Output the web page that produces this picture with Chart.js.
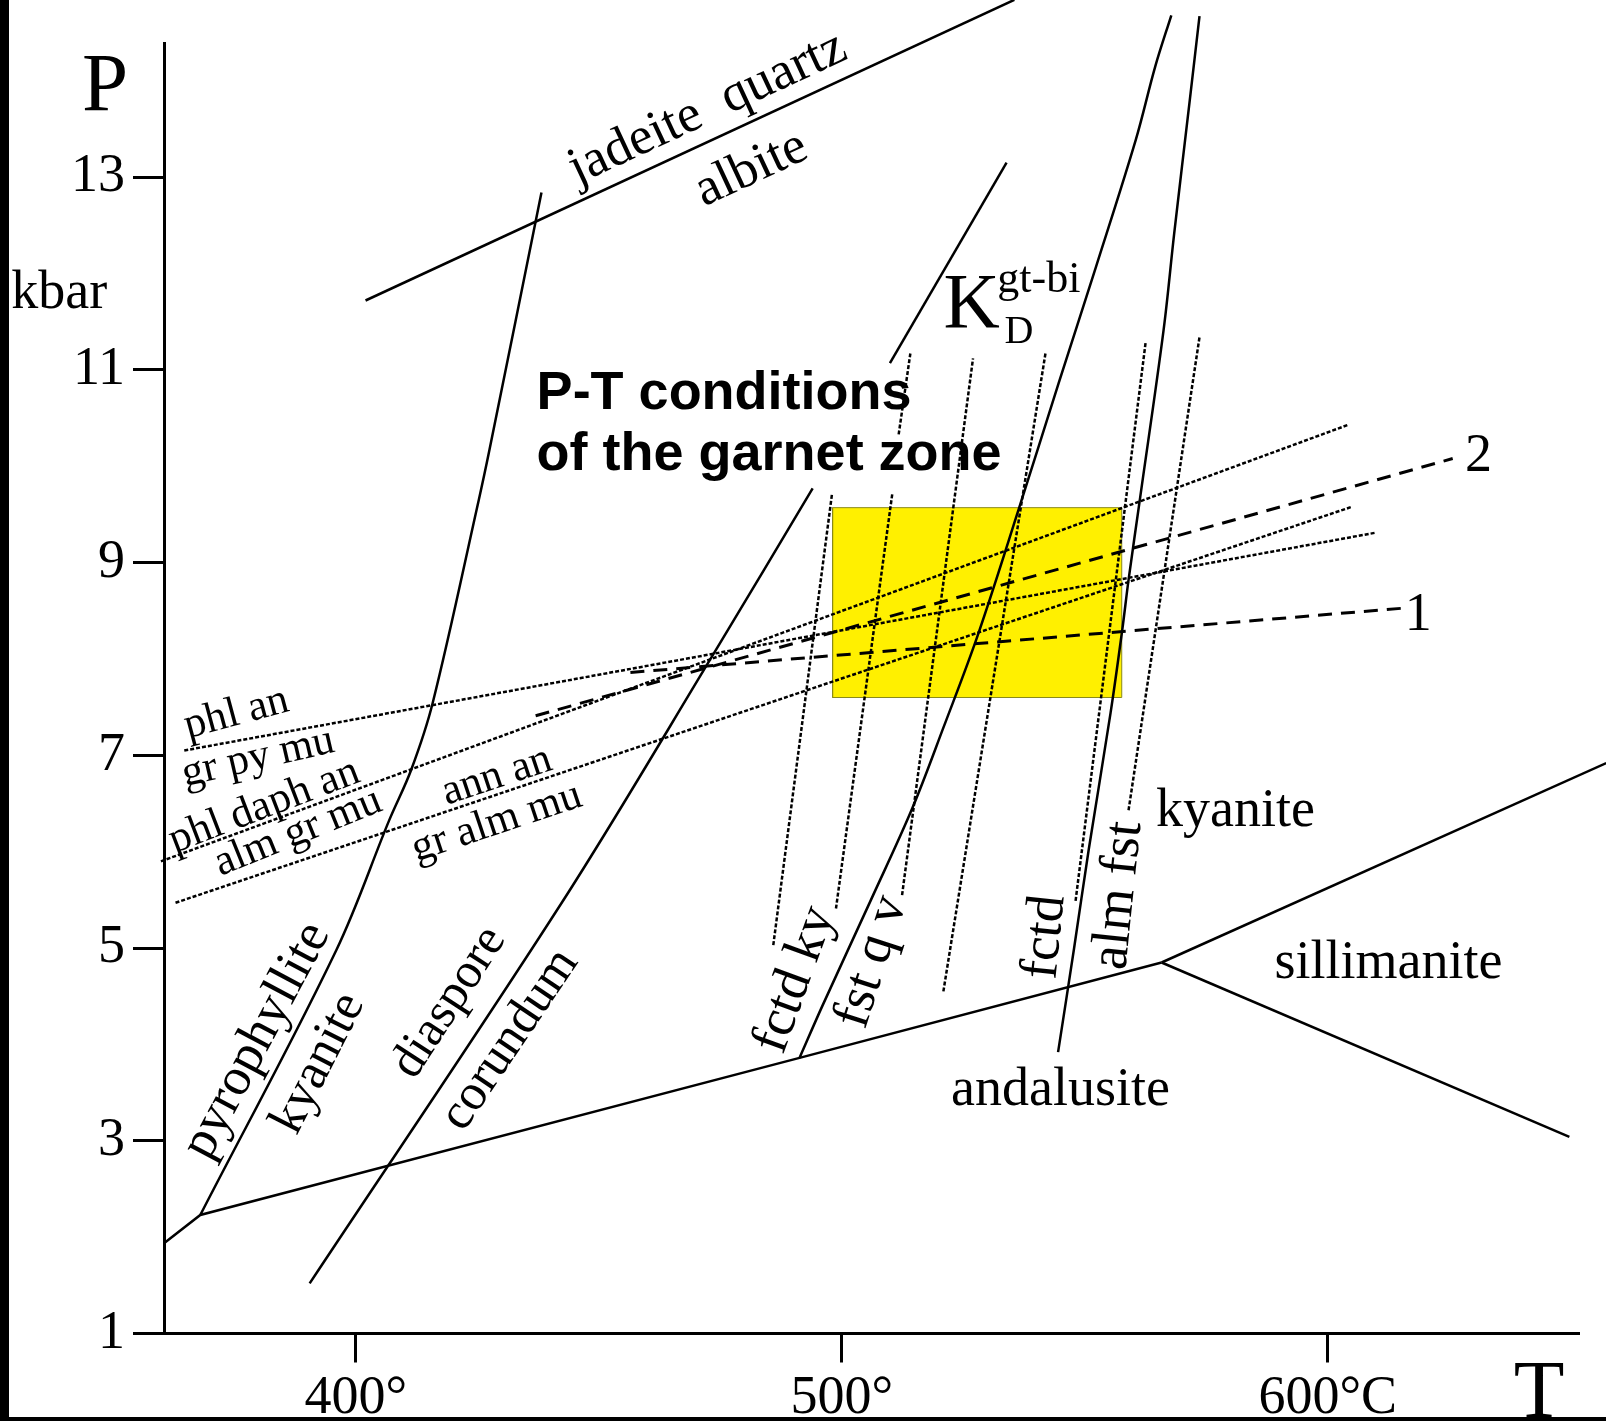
<!DOCTYPE html>
<html>
<head>
<meta charset="utf-8">
<script src="https://cdn.jsdelivr.net/npm/chart.js"></script>
<style>
    html, body { margin: 0; padding: 0; background: #fff; }
    .m-chart { position: relative; width: 1606px; height: 1421px; }
</style>
</head>
<body>
<div class="m-chart"><canvas id="myChart"></canvas></div>
<script>
// axes
const xTicks = [400, 500, 600];
const xTickLabels = ['400°', '500°', '600°C'];
const yTicks = [1, 3, 5, 7, 9, 11, 13];

// solid reaction curves, points are [T °C, P kbar]
const andKy = [[360.6, 1.94], [368.0, 2.23], [491.3, 3.86], [565.8, 4.85]];
const kySil = [[565.8, 4.85], [657.3, 6.92]];
const andSil = [[565.8, 4.85], [649.7, 3.04]];
const pyrKy = [[368.0, 2.23], [396.0, 4.98], [406.9, 6.33], [411.4, 6.85], [415.8, 7.54], [425.3, 9.65], [427.5, 10.17], [438.2, 12.84]];
const diaCor = [[390.5, 1.52], [442.5, 5.48], [473.7, 8.06], [494.0, 9.77]];
const jdQz = [[402.0, 11.72], [535.5, 14.84]];
const kdLine = [[509.9, 11.07], [533.9, 13.15]];
const fctdFst = [[491.3, 3.86], [496.0, 4.40], [506.0, 5.50], [514.5, 6.45], [521.0, 7.30], [528.0, 8.25], [536.5, 9.57], [544.6, 10.86], [552.3, 12.07], [560.5, 13.39], [564.5, 14.15], [567.8, 14.68]];
const fctdAlm = [[544.5, 3.92], [547.8, 5.00], [550.8, 6.02], [555.3, 7.44], [557.7, 8.30], [559.0, 8.82], [561.4, 9.68], [566.2, 11.41], [568.4, 12.42], [571.6, 13.80], [573.6, 14.67]];

// dotted garnet-biotite-plagioclase-muscovite reactions
const phlAn = [[364.7, 7.05], [609.8, 9.31]];
const phlDaphAn = [[359.9, 5.90], [604.2, 10.43]];
const annAn = [[362.9, 5.47], [605.0, 9.58]];

// dashed curves 1 and 2
const curve1 = [[456.5, 7.86], [616.2, 8.53]];
const curve2 = [[437.0, 7.41], [625.7, 10.08]];

// dotted KD isopleths
const kd1 = [[485.9, 5.03], [498.0, 9.72]];
const kd2a = [[498.8, 5.41], [510.4, 9.72]];
const kd2b = [[511.7, 10.33], [514.1, 11.17]];
const kd3 = [[512.4, 5.55], [527.0, 11.12]];
const kd4 = [[520.9, 4.55], [541.9, 11.17]];
const kd5 = [[548.1, 5.49], [562.5, 11.28]];
const kd6 = [[559.0, 6.43], [573.6, 11.34]];

// P-T box of the garnet zone
const garnetBox = [[498.1, 7.60], [557.6, 7.60], [557.6, 9.57], [498.1, 9.57], [498.1, 7.60]];

// text on the diagram, placed in T/P units
const notes = [
    { text: 'P', T: 348.4, P: 13.70, size: 83 },
    { text: 'kbar', T: 329.1, P: 11.64, size: 54, align: 'left' },
    { text: 'T', T: 643.5, P: 0.13, size: 83 },
    { text: 'jadeite  quartz', T: 473.6, P: 13.58, size: 53, rot: -25 },
    { text: 'albite', T: 482.6, P: 12.95, size: 53, rot: -25 },
    { text: 'K', T: 520.9, P: 11.45, size: 78, align: 'left' },
    { text: 'gt-bi', T: 532.0, P: 11.81, size: 44, align: 'left' },
    { text: 'D', T: 533.5, P: 11.28, size: 40, align: 'left' },
    { text: 'P-T conditions', T: 437.2, P: 10.59, size: 54, align: 'left', sans: true },
    { text: 'of the garnet zone', T: 437.2, P: 9.96, size: 54, align: 'left', sans: true },
    { text: 'phl an', T: 376.05, P: 7.32, size: 43, rot: -15 },
    { text: 'gr py mu', T: 380.4, P: 6.86, size: 43, rot: -13 },
    { text: 'phl daph an', T: 382.0, P: 6.36, size: 43, rot: -21 },
    { text: 'alm gr mu', T: 389.0, P: 6.09, size: 43, rot: -22 },
    { text: 'ann an', T: 429.75, P: 6.67, size: 43, rot: -18.5 },
    { text: 'gr alm mu', T: 429.75, P: 6.19, size: 43, rot: -18.5 },
    { text: 'pyrophyllite', T: 382.2, P: 3.97, size: 53, rot: -62 },
    { text: 'kyanite', T: 394.8, P: 3.74, size: 51, rot: -63 },
    { text: 'diaspore', T: 421.5, P: 4.36, size: 50, rot: -57 },
    { text: 'corundum', T: 434.0, P: 3.97, size: 51, rot: -56 },
    { text: 'fctd ky', T: 493.15, P: 4.62, size: 54, rot: -70 },
    { text: 'fst q v', T: 509.0, P: 4.81, size: 54, rot: -72 },
    { text: 'fctd', T: 544.8, P: 5.10, size: 54, rot: -84 },
    { text: 'alm fst', T: 559.9, P: 5.53, size: 54, rot: -84 },
    { text: 'kyanite', T: 581.0, P: 6.27, size: 54 },
    { text: 'sillimanite', T: 612.5, P: 4.69, size: 54 },
    { text: 'andalusite', T: 545.0, P: 3.37, size: 54 },
    { text: '2', T: 631.0, P: 9.95, size: 54 },
    { text: '1', T: 618.6, P: 8.30, size: 54 }
];

const SERIF = '"Liberation Serif", "Times New Roman", serif';
const SANS = '"Liberation Sans", Arial, sans-serif';

const SOLID = { borderWidth: 2.5 };
const CURVE = { borderWidth: 2.5, tension: 0.35 };
const DOTTED = { borderWidth: 2.5, borderDash: [4, 2] };
const DASHED = { borderWidth: 3, borderDash: [14, 9] };

function line(pts, style) {
    return Object.assign({
        data: pts.map(([x, y]) => ({ x: x, y: y })),
        showLine: true,
        pointRadius: 0,
        borderColor: '#000',
        fill: false,
        clip: false,
        tension: 0
    }, style);
}

const datasets = [
    line(andKy, SOLID), line(kySil, SOLID), line(andSil, SOLID),
    line(pyrKy, CURVE), line(diaCor, CURVE), line(jdQz, SOLID), line(kdLine, SOLID),
    line(fctdFst, CURVE), line(fctdAlm, CURVE),
    line(phlAn, DOTTED), line(phlDaphAn, DOTTED), line(annAn, DOTTED),
    line(curve1, DASHED), line(curve2, DASHED),
    line(kd1, DOTTED), line(kd2a, DOTTED), line(kd2b, DOTTED), line(kd3, DOTTED),
    line(kd4, DOTTED), line(kd5, DOTTED), line(kd6, DOTTED),
    line(garnetBox, {
        borderWidth: 1, borderColor: '#8a8a1a',
        backgroundColor: 'rgb(255,240,0)', fill: 'shape', order: 10
    })
];

const notesPlugin = {
    id: 'notes',
    afterDatasetsDraw(chart) {
        const ctx = chart.ctx;
        const x = chart.scales.x, y = chart.scales.y;
        notes.forEach(n => {
            ctx.save();
            ctx.translate(x.getPixelForValue(n.T), y.getPixelForValue(n.P));
            ctx.rotate((n.rot || 0) * Math.PI / 180);
            ctx.font = (n.sans ? 'bold ' : '') + n.size + 'px ' + (n.sans ? SANS : SERIF);
            ctx.textAlign = n.align || 'center';
            ctx.textBaseline = 'alphabetic';
            ctx.fillStyle = '#000';
            ctx.fillText(n.text, 0, 0);
            ctx.restore();
        });
    },
    afterDraw(chart) {
        // black frame of the scanned figure
        const ctx = chart.ctx;
        ctx.save();
        ctx.fillStyle = '#000';
        ctx.fillRect(0, 0, 9, chart.height);
        ctx.fillRect(0, chart.height - 4, chart.width, 4);
        ctx.restore();
    }
};

const ctx = document.getElementById('myChart').getContext('2d');
const myChart = new Chart(ctx, {
    type: 'scatter',
    data: { datasets: datasets },
    options: {
        responsive: true,
        maintainAspectRatio: false,
        animation: false,
        events: [],
        layout: { padding: { top: 43.3, right: 28, bottom: 0, left: 0 } },
        elements: { point: { radius: 0 }, line: { capBezierPoints: false } },
        plugins: { legend: { display: false }, tooltip: { enabled: false } },
        scales: {
            x: {
                type: 'linear',
                position: 'bottom',
                min: 360.53,
                max: 651.48,
                afterFit: s => { s.height = 87.5; },
                afterBuildTicks: s => { s.ticks = xTicks.map(v => ({ value: v })); },
                border: { display: true, color: '#000', width: 3 },
                grid: { drawOnChartArea: false, color: '#000', lineWidth: 3, tickLength: 29 },
                ticks: {
                    autoSkip: false, maxRotation: 0, minRotation: 0, padding: 4, color: '#000',
                    font: { family: SERIF, size: 54 },
                    callback: v => xTickLabels[xTicks.indexOf(v)]
                }
            },
            y: {
                type: 'linear',
                position: 'left',
                min: 1,
                max: 14.389,
                afterFit: s => { s.width = 164; },
                afterBuildTicks: s => { s.ticks = yTicks.map(v => ({ value: v })); },
                border: { display: true, color: '#000', width: 3 },
                grid: { drawOnChartArea: false, color: '#000', lineWidth: 3, tickLength: 31 },
                ticks: {
                    autoSkip: false, padding: 8, color: '#000',
                    font: { family: SERIF, size: 54 },
                    callback: v => String(v)
                }
            }
        }
    },
    plugins: [notesPlugin]
});
</script>
</body>
</html>
